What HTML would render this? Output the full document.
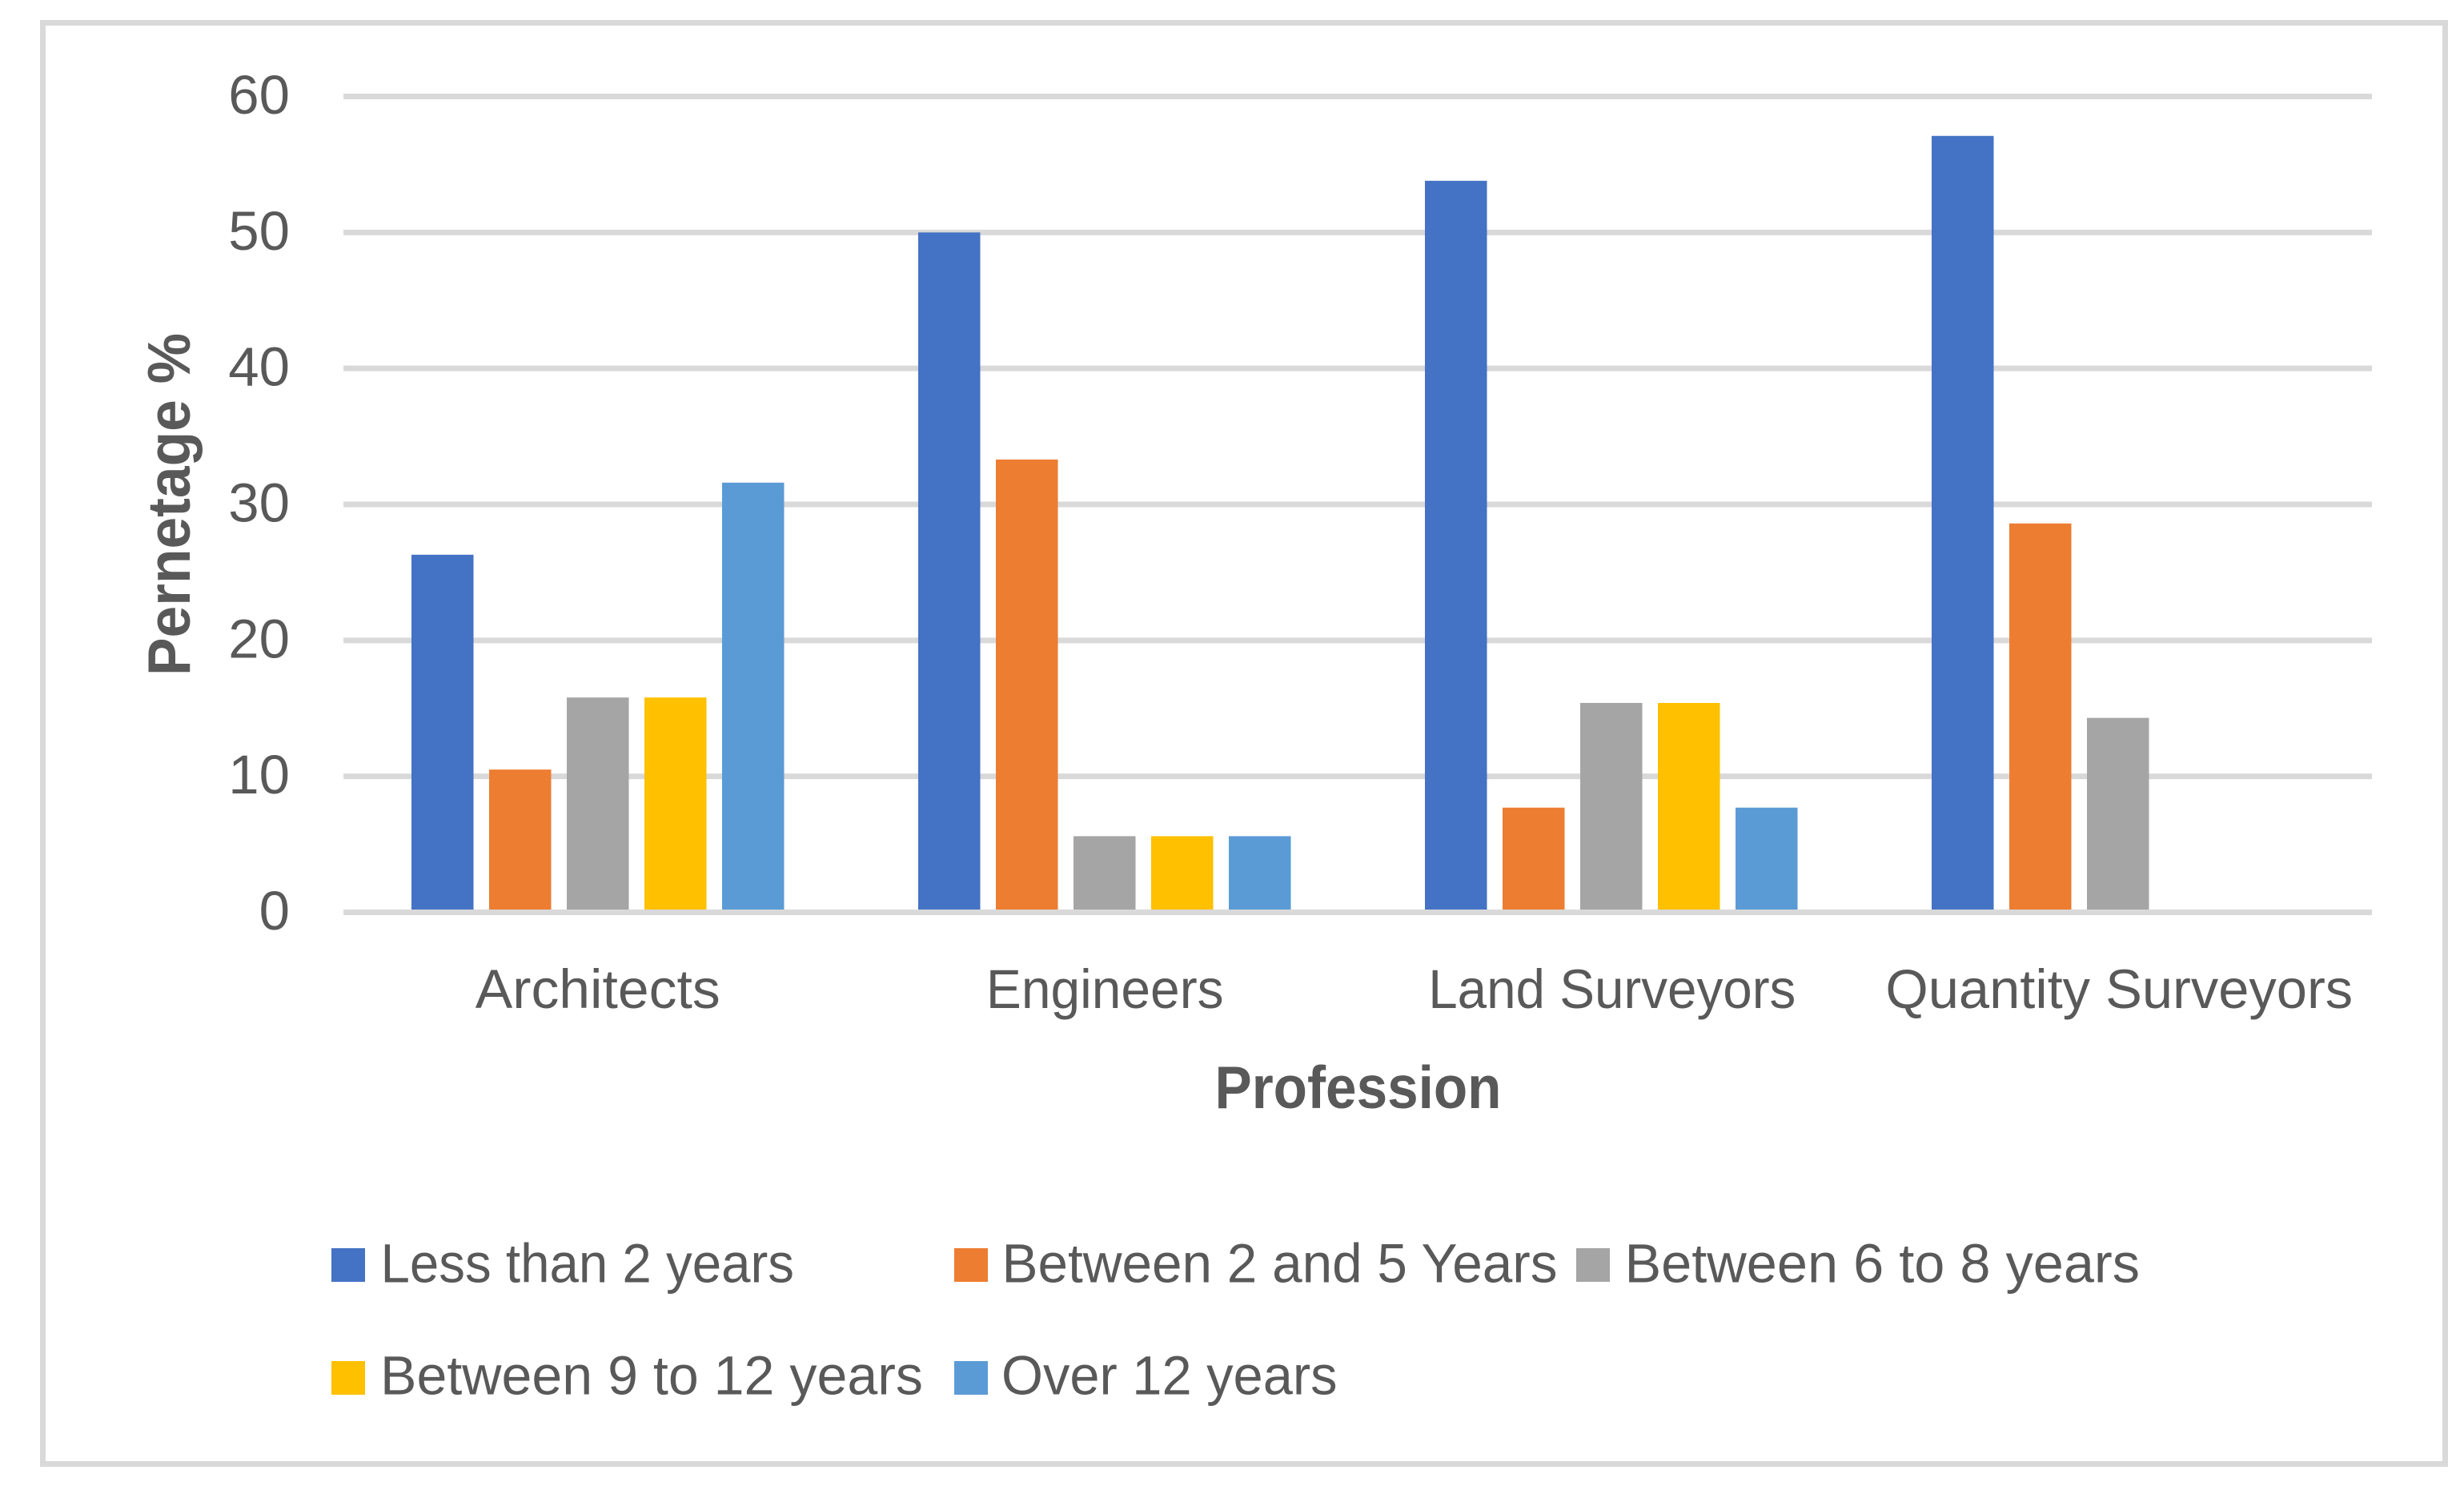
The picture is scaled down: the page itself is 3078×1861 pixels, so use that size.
<!DOCTYPE html>
<html lang="en">
<head>
<meta charset="utf-8">
<title>Pernetage % by Profession</title>
<style>
html,body{margin:0;padding:0;background:#fff;}
body{width:3078px;height:1861px;overflow:hidden;}
svg{display:block;}
text{font-family:"Liberation Sans",sans-serif;fill:#595959;}
</style>
</head>
<body>
<svg id="chart" xmlns="http://www.w3.org/2000/svg" width="3078" height="1861" viewBox="0 0 3078 1861">
  <rect x="0" y="0" width="3078" height="1861" fill="#ffffff"/>
  <rect x="53.5" y="28.5" width="3001" height="1800" fill="none" stroke="#D9D9D9" stroke-width="7"/>
  <g id="grid"></g>
  <g id="bars"></g>
  <g id="axis"></g>
  <g id="yticks"></g>
  <g id="xticks"></g>
  <text transform="translate(237,630) rotate(-90)" text-anchor="middle" font-size="75" font-weight="700" textLength="428" lengthAdjust="spacingAndGlyphs">Pernetage %</text>
  <text x="1696.5" y="1384" text-anchor="middle" font-size="75" font-weight="700" textLength="358" lengthAdjust="spacingAndGlyphs">Profession</text>
  <g id="legend">
    <g>
      <rect x="414" y="1559" width="42" height="42" fill="#4472C4"/>
      <text x="475.5" y="1601.5" font-size="69" textLength="516.5" lengthAdjust="spacingAndGlyphs">Less than 2 years</text>
    </g>
    <g>
      <rect x="1192" y="1559" width="42" height="42" fill="#ED7D31"/>
      <text x="1251.5" y="1601.5" font-size="69" textLength="694" lengthAdjust="spacingAndGlyphs">Between 2 and 5 Years</text>
    </g>
    <g>
      <rect x="1969" y="1559" width="42" height="42" fill="#A5A5A5"/>
      <text x="2029.5" y="1601.5" font-size="69" textLength="643.5" lengthAdjust="spacingAndGlyphs">Between 6 to 8 years</text>
    </g>
    <g>
      <rect x="414" y="1700" width="42" height="42" fill="#FFC000"/>
      <text x="475" y="1741.5" font-size="69" textLength="678" lengthAdjust="spacingAndGlyphs">Between 9 to 12 years</text>
    </g>
    <g>
      <rect x="1192" y="1700" width="42" height="42" fill="#5B9BD5"/>
      <text x="1251" y="1741.5" font-size="69" textLength="419.5" lengthAdjust="spacingAndGlyphs">Over 12 years</text>
    </g>
  </g>
</svg>
<script>
const categories = ["Architects", "Engineers", "Land Surveyors", "Quantity Surveyors"];
const seriesNames = ["Less than 2 years", "Between 2 and 5 Years", "Between 6 to 8 years", "Between 9 to 12 years", "Over 12 years"];
const lessThan2Years = [26.3, 50, 53.8, 57.1];
const between2And5Years = [10.5, 33.3, 7.7, 28.6];
const between6To8Years = [15.8, 5.6, 15.4, 14.3];
const between9To12Years = [15.8, 5.6, 15.4, 0];
const over12Years = [31.6, 5.6, 7.7, 0];
const yTickLabels = [0, 10, 20, 30, 40, 50, 60];

const allSeries = [lessThan2Years, between2And5Years, between6To8Years, between9To12Years, over12Years];
const seriesColors = ["#4472C4", "#ED7D31", "#A5A5A5", "#FFC000", "#5B9BD5"];
const catLabelFit = [1.01, 0.955, 0.95, 0.995];

const NS = "http://www.w3.org/2000/svg";
const plotLeft = 429, plotRight = 2963, y0 = 1139.5, yMax = 60, yTopPx = 120.5;
const barW = 77.5, barStep = 97, barBandW = 633, barFirstCenter = 746.75;
const labelBandW = (plotRight - plotLeft) / categories.length, labelShift = 1;
function yScale(v) { return y0 - (v / yMax) * (y0 - yTopPx); }
function barCenter(i) { return barFirstCenter + barBandW * i; }
function labelCenter(i) { return plotLeft + labelBandW * (i + 0.5) + labelShift; }
function barX(i, s) { return barCenter(i) - (barStep * (allSeries.length - 1) + barW) / 2 + s * barStep; }

const gridG = document.getElementById("grid");
const yG = document.getElementById("yticks");
const axisG = document.getElementById("axis");
yTickLabels.forEach(function (t) {
  if (t !== 0) {
    const l = document.createElementNS(NS, "line");
    
    
    l.setAttribute("x1", plotLeft);
    l.setAttribute("x2", plotRight);
    l.setAttribute("y1", yScale(t));
    l.setAttribute("y2", yScale(t));
    l.setAttribute("stroke", "#D9D9D9");
    l.setAttribute("stroke-width", "7");
    gridG.appendChild(l);
  }
  const tx = document.createElementNS(NS, "text");
  
  
  tx.setAttribute("x", 362);
  tx.setAttribute("y", yScale(t) + 21.5);
  tx.setAttribute("text-anchor", "end");
  tx.setAttribute("font-size", "69");
  tx.textContent = t;
  yG.appendChild(tx);
});

const barsG = document.getElementById("bars");
allSeries.forEach(function (vals, s) {
  vals.forEach(function (v, i) {
    if (v <= 0) return;
    const r = document.createElementNS(NS, "rect");
    
    
    r.setAttribute("x", barX(i, s));
    r.setAttribute("y", yScale(v));
    r.setAttribute("width", barW);
    r.setAttribute("height", y0 - yScale(v));
    r.setAttribute("fill", seriesColors[s]);
    const tip = document.createElementNS(NS, "title");
    tip.textContent = categories[i] + " - " + seriesNames[s] + ": " + v;
    r.appendChild(tip);
    barsG.appendChild(r);
  });
});

const axisLine = document.createElementNS(NS, "line");


axisLine.setAttribute("x1", plotLeft);
axisLine.setAttribute("x2", plotRight);
axisLine.setAttribute("y1", y0);
axisLine.setAttribute("y2", y0);
axisLine.setAttribute("stroke", "#D9D9D9");
axisLine.setAttribute("stroke-width", "7");
axisG.appendChild(axisLine);

const xG = document.getElementById("xticks");
categories.forEach(function (c, i) {
  const tx = document.createElementNS(NS, "text");
  
  
  tx.setAttribute("x", labelCenter(i));
  tx.setAttribute("y", 1259);
  tx.setAttribute("text-anchor", "middle");
  tx.setAttribute("font-size", "69");
  tx.textContent = c;
  xG.appendChild(tx);
  const w = tx.getComputedTextLength();
  tx.setAttribute("textLength", w * catLabelFit[i]);
  tx.setAttribute("lengthAdjust", "spacingAndGlyphs");
});
</script>
</body>
</html>
